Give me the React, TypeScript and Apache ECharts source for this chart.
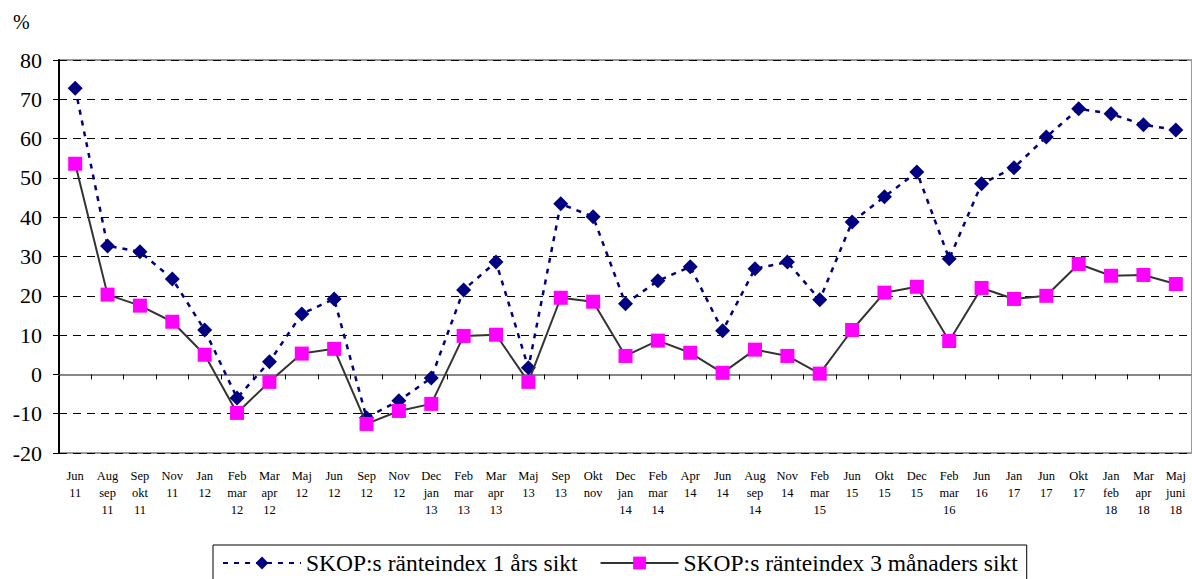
import React, { useEffect, useRef } from "react";
import * as echarts from "echarts";

const categories = [
  "Jun\n11", "Aug\nsep\n11", "Sep\nokt\n11", "Nov\n11", "Jan\n12", "Feb\nmar\n12", "Mar\napr\n12",
  "Maj\n12", "Jun\n12", "Sep\n12", "Nov\n12", "Dec\njan\n13", "Feb\nmar\n13", "Mar\napr\n13",
  "Maj\n13", "Sep\n13", "Okt\nnov", "Dec\njan\n14", "Feb\nmar\n14", "Apr\n14", "Jun\n14",
  "Aug\nsep\n14", "Nov\n14", "Feb\nmar\n15", "Jun\n15", "Okt\n15", "Dec\n15", "Feb\nmar\n16",
  "Jun\n16", "Jan\n17", "Jun\n17", "Okt\n17", "Jan\nfeb\n18", "Mar\napr\n18", "Maj\njuni\n18",
];

const index1yr = [
  72.8, 32.7, 31.2, 24.3, 11.3, -6.0, 3.2, 15.4, 19.2, -11.0, -6.7, -0.9, 21.5, 28.6,
  1.7, 43.4, 40.1, 18.0, 23.8, 27.4, 11.1, 26.9, 28.6, 19.0, 38.8, 45.2, 51.5, 29.4,
  48.5, 52.6, 60.4, 67.6, 66.3, 63.5, 62.2,
];

const index3m = [
  53.6, 20.3, 17.5, 13.4, 5.0, -9.8, -1.9, 5.3, 6.5, -12.6, -9.3, -7.5, 9.8, 10.1,
  -1.9, 19.5, 18.5, 4.7, 8.6, 5.5, 0.4, 6.3, 4.7, 0.2, 11.3, 20.8, 22.3, 8.5,
  22.0, 19.2, 20.0, 28.1, 25.1, 25.3, 23.0,
];

const seriesNames = ["SKOP:s ränteindex 1 års sikt", "SKOP:s ränteindex 3 månaders sikt"];

const FONT = "'Liberation Serif', 'DejaVu Serif', serif";

export default function App() {
  const ref = useRef<HTMLDivElement>(null);
  useEffect(() => {
    if (!ref.current) return;
    const chart = echarts.init(ref.current, null, { renderer: "svg" });
    chart.setOption({
      animation: false,
      backgroundColor: "#ffffff",
      textStyle: { fontFamily: FONT },
      graphic: [
        {
          type: "text",
          left: 13,
          top: 12,
          style: { text: "%", font: `20px ${FONT}`, fill: "#000" },
        },
      ],
      grid: {
        left: 59,
        top: 60,
        width: 1136,
        height: 393,
        show: true,
        borderColor: "#999999",
        borderWidth: 2,
        backgroundColor: "transparent",
      },
      legend: {
        left: 213,
        top: 545,
        itemWidth: 78,
        itemHeight: 16,
        itemGap: 22,
        padding: [6, 9, 12, 9],
        borderColor: "#000",
        borderWidth: 1,
        textStyle: { fontFamily: FONT, fontSize: 23.5, color: "#000" },
        data: seriesNames,
      },
      xAxis: [
        {
          type: "category",
          data: categories,
          boundaryGap: true,
          axisLine: { onZero: true, lineStyle: { color: "#888", width: 2 } },
          axisTick: { show: true, length: 5, inside: false, lineStyle: { color: "#000", width: 1 } },
          axisLabel: { show: false },
          splitLine: { show: false },
        },
        {
          type: "category",
          data: categories,
          position: "bottom",
          boundaryGap: true,
          axisLine: { show: false, onZero: false },
          axisTick: { show: false },
          axisLabel: {
            show: true,
            interval: 0,
            margin: 14,
            fontFamily: FONT,
            fontSize: 12.5,
            lineHeight: 17,
            color: "#000",
            verticalAlign: "top",
          },
        },
      ],
      yAxis: {
        type: "value",
        min: -20,
        max: 80,
        interval: 10,
        axisLine: { show: true, lineStyle: { color: "#000", width: 2 } },
        axisTick: { show: true, length: 6, lineStyle: { color: "#000" } },
        axisLabel: { fontFamily: FONT, fontSize: 22, color: "#000", margin: 17 },
        splitLine: {
          show: true,
          lineStyle: { color: "#000", width: 1, type: [8, 6] },
        },
      },
      series: [
        {
          name: seriesNames[0],
          type: "line",
          data: index1yr,
          xAxisIndex: 0,
          symbol: "diamond",
          symbolSize: 15,
          itemStyle: { color: "#000080" },
          lineStyle: { color: "#000080", width: 2.5, type: [5, 6] },
          z: 3,
        },
        {
          name: seriesNames[1],
          type: "line",
          data: index3m,
          xAxisIndex: 0,
          symbol: "rect",
          symbolSize: 14,
          itemStyle: { color: "#ff00ff" },
          lineStyle: { color: "#333333", width: 2 },
          z: 4,
        },
      ],
    });
    return () => chart.dispose();
  }, []);
  return (
    <div
      ref={ref}
      style={{ position: "fixed", left: 0, top: 0, width: 1192, height: 579, background: "#fff" }}
    />
  );
}
